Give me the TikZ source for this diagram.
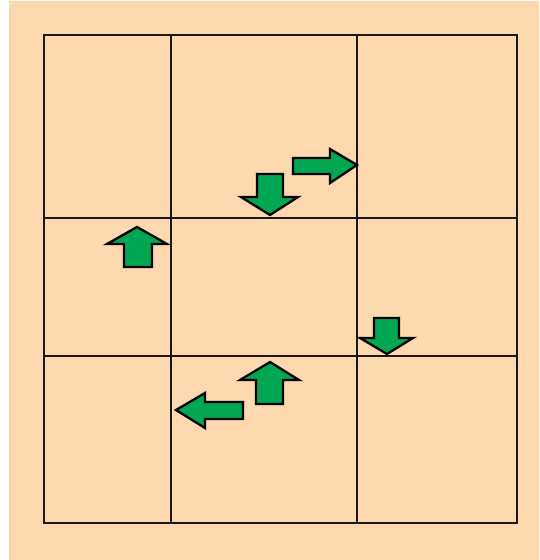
\documentclass[tikz,border=0pt]{standalone}
\begin{document}
\begin{tikzpicture}[x=1pt,y=-1pt,
  gridline/.style={draw=black!90, line width=2.8pt},
  blockarrow/.style={fill={rgb,255:red,0;green,166;blue,81}, draw=black, line width=2.3pt, line join=miter}]
\definecolor{peach}{RGB}{254,217,176}
\useasboundingbox (0,0) rectangle (539,560);
\fill[white] (0,0) rectangle (539,560);
\fill[peach] (9,1) rectangle (539,560);
% grid
\draw[gridline] (44,35) rectangle (517,523);
\draw[gridline] (171,35) -- (171,523);
\draw[gridline] (357,35) -- (357,523);
\draw[gridline] (44,218) -- (517,218);
\draw[gridline] (44,356) -- (517,356);
% right arrow
\draw[blockarrow] (293,158) -- (330,158) -- (330,149) -- (357,165) -- (330,183) -- (330,174) -- (293,174) -- cycle;
% down arrow (top middle)
\draw[blockarrow] (257,174) -- (283,174) -- (283,197) -- (298,197) -- (270,215) -- (241,197) -- (257,197) -- cycle;
% up arrow (left)
\draw[blockarrow] (124,267) -- (124,244) -- (107,244) -- (137,227) -- (167,244) -- (152,244) -- (152,267) -- cycle;
% down arrow (right)
\draw[blockarrow] (374,318) -- (399,318) -- (399,338) -- (413,338) -- (387,354) -- (360,338) -- (374,338) -- cycle;
% up arrow (bottom middle)
\draw[blockarrow] (256,404) -- (256,380) -- (240,380) -- (270,362) -- (299,380) -- (283,380) -- (283,404) -- cycle;
% left arrow
\draw[blockarrow] (243,402) -- (205,402) -- (205,393) -- (176,410) -- (205,428) -- (205,419) -- (243,419) -- cycle;
\end{tikzpicture}
\end{document}
